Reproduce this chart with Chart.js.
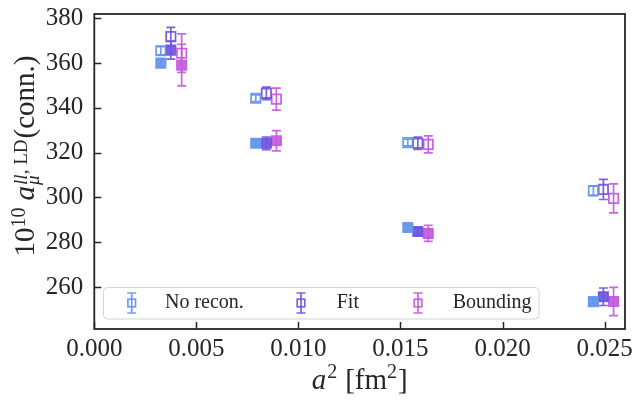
<!DOCTYPE html>
<html><head><meta charset="utf-8">
<script src="https://cdn.jsdelivr.net/npm/chart.js@4.4.0/dist/chart.umd.min.js"></script>
<style>html,body{margin:0;padding:0;background:#fff;}#wrap{width:636px;height:400px;}</style>
</head><body><div id="wrap"><canvas id="c" width="636" height="400"></canvas></div>
<script>
// ---------- data ----------
const seriesLabels = ['No recon.', 'Fit', 'Bounding'];
const xNoRecon   = [0.00326, 0.00791, 0.01536, 0.02445];
const xFit       = [0.00375, 0.00843, 0.01585, 0.02494];
const xBounding  = [0.00428, 0.00892, 0.01636, 0.02544];

const openNoRecon     = [365.5, 344.3, 324.5, 303.0];
const openNoReconErr  = [1.8, 1.5, 1.5, 2.2];
const fillNoRecon     = [360.0, 324.2, 286.6, 253.5];
const fillNoReconErr  = [1.8, 1.0, 1.0, 1.0];

const openFit         = [371.8, 346.5, 324.2, 303.6];
const openFitErr      = [4.1, 2.8, 2.7, 4.5];
const fillFit         = [365.8, 324.2, 284.8, 255.7];
const fillFitErr      = [4.0, 2.8, 1.5, 3.9];

const openBounding    = [364.4, 343.9, 323.7, 299.6];
const openBoundingErr = [8.6, 4.9, 3.8, 6.5];
const fillBounding    = [359.1, 325.3, 284.0, 253.6];
const fillBoundingErr = [9.3, 4.5, 3.6, 6.3];

const xTicks = [0, 0.005, 0.010, 0.015, 0.020, 0.025];
const yTicks = [260, 280, 300, 320, 340, 360, 380];

// ---------- styles ----------
const colNoRecon = 'rgba(100,149,237,0.92)';
const colFit = 'rgba(112,84,226,0.92)';
const colBounding = 'rgba(195,90,222,0.92)';
const FONT = "'Liberation Serif', serif";
const INK = '#262626';

function pts(xs, ys){ return xs.map((x,i)=>({x:x, y:ys[i]})); }
function ds(label, xs, ys, errs, col, open){
  return {label, data: pts(xs, ys), errors: errs, open,
    pointStyle:'rect', pointRadius:6.6, pointHoverRadius:6.6,
    borderWidth:1.8, borderColor:col, backgroundColor: open ? 'rgba(0,0,0,0)' : col,
    showLine:false};
}

const datasets = [
  ds(seriesLabels[0], xNoRecon, openNoRecon, openNoReconErr, colNoRecon, true),
  ds(seriesLabels[1], xFit, openFit, openFitErr, colFit, true),
  ds(seriesLabels[2], xBounding, openBounding, openBoundingErr, colBounding, true),
  ds(seriesLabels[0], xNoRecon, fillNoRecon, fillNoReconErr, colNoRecon, false),
  ds(seriesLabels[1], xFit, fillFit, fillFitErr, colFit, false),
  ds(seriesLabels[2], xBounding, fillBounding, fillBoundingErr, colBounding, false)
];

// ---------- plugins ----------
const errorBars = {
  id:'errorBars',
  beforeDatasetsDraw(chart){
    const {ctx, scales:{x, y}} = chart;
    chart.data.datasets.forEach(d=>{
      ctx.save();
      ctx.strokeStyle = d.borderColor; ctx.lineWidth = 1.7;
      d.data.forEach((p,j)=>{
        const e = d.errors[j];
        const px = x.getPixelForValue(p.x);
        const y1 = y.getPixelForValue(p.y - e), y2 = y.getPixelForValue(p.y + e);
        ctx.beginPath();
        ctx.moveTo(px, y1); ctx.lineTo(px, y2);
        ctx.moveTo(px-4.5, y1); ctx.lineTo(px+4.5, y1);
        ctx.moveTo(px-4.5, y2); ctx.lineTo(px+4.5, y2);
        ctx.stroke();
      });
      ctx.restore();
    });
  }
};

function drawRich(ctx, parts, x0, y0){
  let x = x0;
  parts.forEach(p=>{
    ctx.font = (p.italic ? 'italic ' : '') + p.size + 'px ' + FONT;
    ctx.fillText(p.t, x, y0 + (p.dy||0));
    if (!p.noAdvance) x += ctx.measureText(p.t).width + (p.gap||0);
  });
  return x - x0;
}
function measureRich(ctx, parts){
  let w = 0;
  parts.forEach(p=>{
    ctx.font = (p.italic ? 'italic ' : '') + p.size + 'px ' + FONT;
    if (!p.noAdvance) w += ctx.measureText(p.t).width + (p.gap||0);
  });
  return w;
}

const frameAndText = {
  id:'frameAndText',
  afterDraw(chart){
    const {ctx, chartArea:a, scales:{x, y}} = chart;
    ctx.save();
    // inward ticks
    ctx.strokeStyle = INK; ctx.lineWidth = 1.5;
    ctx.beginPath();
    xTicks.forEach(v=>{ const px = Math.round(x.getPixelForValue(v))+0.5; ctx.moveTo(px, a.bottom); ctx.lineTo(px, a.bottom-7); });
    yTicks.forEach(v=>{ const py = Math.round(y.getPixelForValue(v))+0.5; ctx.moveTo(a.left, py); ctx.lineTo(a.left+7, py); });
    ctx.stroke();
    // spines
    ctx.lineWidth = 1.8;
    ctx.strokeRect(a.left, a.top, a.right-a.left, a.bottom-a.top);

    // legend
    const lx = 103.5, ly = 287.5, lw = 435.5, lh = 31.5, r = 4;
    ctx.beginPath();
    ctx.moveTo(lx+r, ly); ctx.arcTo(lx+lw, ly, lx+lw, ly+lh, r); ctx.arcTo(lx+lw, ly+lh, lx, ly+lh, r);
    ctx.arcTo(lx, ly+lh, lx, ly, r); ctx.arcTo(lx, ly, lx+lw, ly, r); ctx.closePath();
    ctx.fillStyle = 'rgba(255,255,255,0.85)'; ctx.fill();
    ctx.strokeStyle = '#d4d4d4'; ctx.lineWidth = 1; ctx.stroke();
    const symX = [131.7, 301, 418], txtX = [165, 336.7, 452.7], cy = 303;
    chart.data.datasets.filter(d=>d.open).forEach((d,i)=>{
      ctx.strokeStyle = d.borderColor; ctx.lineWidth = 1.7;
      const sx = symX[i];
      ctx.beginPath();
      ctx.moveTo(sx, cy-10); ctx.lineTo(sx, cy+10);
      ctx.moveTo(sx-4.5, cy-10); ctx.lineTo(sx+4.5, cy-10);
      ctx.moveTo(sx-4.5, cy+10); ctx.lineTo(sx+4.5, cy+10);
      ctx.stroke();
      ctx.strokeRect(sx-3.8, cy-3.8, 7.6, 7.6);
      ctx.fillStyle = INK; ctx.textBaseline = 'middle'; ctx.textAlign = 'left';
      ctx.font = '20px ' + FONT;
      ctx.fillText(d.label, txtX[i], cy);
    });

    // axis titles
    ctx.fillStyle = INK; ctx.textBaseline = 'alphabetic'; ctx.textAlign = 'left';
    const xParts = [
      {t:'a', size:29, italic:true, gap:1},
      {t:'2', size:20, dy:-11, gap:8},
      {t:'[fm', size:29},
      {t:'2', size:20, dy:-11, gap:1},
      {t:']', size:29}
    ];
    const xw = measureRich(ctx, xParts);
    drawRich(ctx, xParts, (a.left + a.right)/2 - xw/2, 389);

    const yParts = [
      {t:'10', size:29},
      {t:'10', size:20, dy:-8.5, gap:7},
      {t:'a', size:29, italic:true, gap:1},
      {t:'μ', size:19, italic:true, dy:5.5, noAdvance:true},
      {t:'ll', size:19, italic:true, dy:-7},
      {t:', LD', size:19, dy:-7, gap:1},
      {t:'(conn.)', size:29}
    ];
    const yw = measureRich(ctx, yParts);
    ctx.translate(33.5, 156);
    ctx.rotate(-Math.PI/2);
    drawRich(ctx, yParts, -yw/2, 0);
    ctx.restore();
  }
};

new Chart(document.getElementById('c'), {
  type:'scatter',
  data:{datasets},
  options:{
    responsive:false, animation:false, devicePixelRatio:1,
    layout:{padding:{top:14, right:11, left:0, bottom:0}},
    plugins:{legend:{display:false}, tooltip:{enabled:false}},
    scales:{
      x:{type:'linear', min:0, max:0.026,
        grid:{display:false, drawTicks:false}, border:{display:false},
        afterBuildTicks(s){ s.ticks = xTicks.map(v=>({value:v})); },
        afterFit(s){ s.height = 71; s.paddingLeft = 0; s.paddingRight = 0; },
        ticks:{font:{family:FONT, size:25}, color:INK, padding:5, maxRotation:0, autoSkip:false,
          callback:v=>Number(v).toFixed(3)}},
      y:{type:'linear', min:241.3, max:381.9,
        grid:{display:false, drawTicks:false}, border:{display:false},
        afterBuildTicks(s){ s.ticks = yTicks.map(v=>({value:v})); },
        afterFit(s){ s.width = 94.3; s.paddingTop = 0; s.paddingBottom = 0; },
        ticks:{font:{family:FONT, size:25}, color:INK, padding:11, autoSkip:false,
          callback:v=>String(v)}}
    }
  },
  plugins:[errorBars, frameAndText]
});
</script>
</body></html>
